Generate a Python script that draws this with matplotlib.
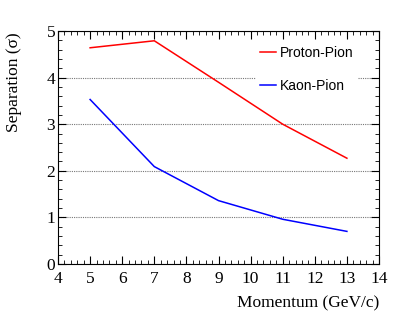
import matplotlib
matplotlib.use("Agg")
import matplotlib.pyplot as plt
from matplotlib.ticker import MultipleLocator

# momentum points (GeV/c)
momentum = [5, 7, 9, 11, 13]
# separation in sigma
proton_pion = [4.64, 4.79, 3.90, 3.00, 2.27]
kaon_pion = [3.53, 2.09, 1.36, 0.96, 0.70]

fig = plt.figure(figsize=(3.99, 3.15), dpi=100)
ax = fig.add_axes([0.1454, 0.1619, 0.8045, 0.7397])

ax.plot(momentum, proton_pion, color="red", linewidth=1.1, label="Proton-Pion")
ax.plot(momentum, kaon_pion, color="blue", linewidth=1.1, label="Kaon-Pion")

ax.set_xlim(4, 14)
ax.set_ylim(0, 5)
ax.xaxis.set_major_locator(MultipleLocator(1))
ax.xaxis.set_minor_locator(MultipleLocator(0.2))
ax.yaxis.set_major_locator(MultipleLocator(1))
ax.yaxis.set_minor_locator(MultipleLocator(0.2))
ax.tick_params(which="both", direction="in", top=True, right=True)
ax.tick_params(which="major", length=6, width=0.8)
ax.tick_params(which="minor", length=3, width=0.6)

ax.grid(axis="y", which="major", color="#777777", linestyle=(0, (1, 1)), linewidth=0.8)

serif = "Liberation Serif"
for lab in ax.get_xticklabels() + ax.get_yticklabels():
    lab.set_fontfamily(serif)
    lab.set_fontsize(12.5)
ax.tick_params(axis="x", pad=5)
ax.tick_params(axis="y", pad=2)

ax.set_xlabel("Momentum (GeV/c)", fontfamily=serif, fontsize=12.5, loc="right", labelpad=6)
ax.set_ylabel("Separation (σ)", fontfamily=serif, fontsize=12.5, loc="top")
ax.yaxis.set_label_coords(-0.113, 0.995)

leg = ax.legend(loc="upper right", bbox_to_anchor=(0.955, 0.985), frameon=True,
                fancybox=False, edgecolor="none", facecolor="white", framealpha=1,
                prop={"family": "Liberation Sans", "size": 10},
                handlelength=1.15, handletextpad=0.25, labelspacing=1.4,
                borderpad=0.3)

fig.savefig("out.png", dpi=100)
